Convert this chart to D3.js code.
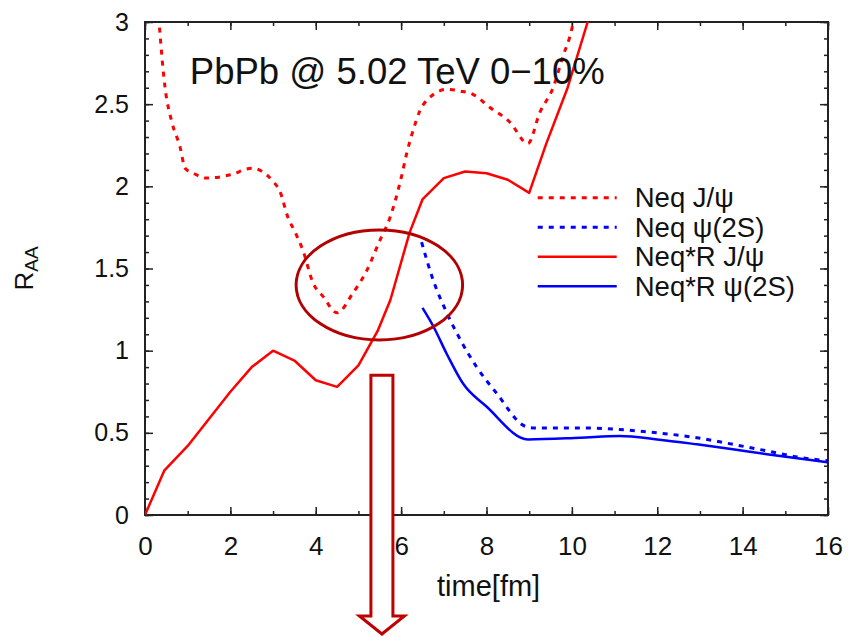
<!DOCTYPE html>
<html>
<head>
<meta charset="utf-8">
<script src="https://cdn.jsdelivr.net/npm/d3@7"></script>
<style>
  body { margin: 0; background: #fff; }
  svg { display: block; font-family: "Liberation Sans", Arial, sans-serif; }
</style>
</head>
<body>
<svg id="chart" width="850" height="637"></svg>
<script>
// valores (tempo em fm, R_AA)
const neqJpsiT = [0.25, 0.33, 0.47, 0.62, 0.82, 0.94, 1.13, 1.44, 2.0, 2.5, 2.85, 3.0, 3.16, 3.35, 3.5, 3.7, 3.94, 4.17, 4.5, 4.87, 5.2, 5.5, 5.74, 6.0, 6.13, 6.28, 6.44, 6.67, 7.07, 7.38, 7.68, 8.08, 8.55, 8.97, 9.25, 9.56, 9.79, 10.0, 10.1];
const neqJpsiR = [3.3, 3.0, 2.6, 2.4, 2.24, 2.11, 2.08, 2.05, 2.07, 2.11, 2.07, 2.03, 1.97, 1.81, 1.73, 1.61, 1.41, 1.33, 1.23, 1.35, 1.49, 1.67, 1.81, 2.05, 2.2, 2.34, 2.46, 2.54, 2.59, 2.58, 2.56, 2.48, 2.39, 2.26, 2.45, 2.6, 2.79, 2.96, 3.1];

const neqPsi2sT = [6.48, 6.75, 7.07, 7.38, 7.77, 8.24, 8.9, 9.09, 10.19, 11.12, 12.0, 12.93, 13.77, 14.57, 15.35, 16.0];
const neqPsi2sR = [1.66, 1.43, 1.23, 1.07, 0.9, 0.74, 0.54, 0.53, 0.53, 0.52, 0.5, 0.47, 0.43, 0.39, 0.35, 0.33];

const neqRJpsiT = [0, 0.45, 1.0, 2.0, 2.5, 3.0, 3.5, 4.0, 4.5, 5.0, 5.45, 5.75, 6.2, 6.5, 7.0, 7.5, 8.0, 8.5, 9.0, 9.4, 9.9, 10.37, 10.5];
const neqRJpsiR = [0, 0.27, 0.42, 0.75, 0.9, 1.0, 0.94, 0.82, 0.78, 0.91, 1.12, 1.31, 1.72, 1.92, 2.05, 2.09, 2.08, 2.04, 1.96, 2.26, 2.6, 3.0, 3.1];

const neqRPsi2sT = [6.5, 6.75, 7.07, 7.45, 8.0, 8.97, 10.19, 11.12, 12.0, 12.93, 13.77, 14.57, 16.0];
const neqRPsi2sR = [1.26, 1.15, 0.98, 0.8, 0.66, 0.46, 0.47, 0.48, 0.46, 0.43, 0.4, 0.37, 0.32];

// ticks dos eixos
const xTicks = [0, 2, 4, 6, 8, 10, 12, 14, 16];
const yTicks = [0, 0.5, 1, 1.5, 2, 2.5, 3];
const yTickLabels = ["0", "0.5", "1", "1.5", "2", "2.5", "3"];

const seriesNames = ["Neq J/\u03C8", "Neq \u03C8(2S)", "Neq*R J/\u03C8", "Neq*R \u03C8(2S)"];
const seriesColors = ["#ff0000", "#0000ff", "#ff0000", "#0000ff"];
const seriesDashed = [true, true, false, false];
// a curva Neq*R J/psi é quase uma poligonal no original
const seriesCurves = [d3.curveMonotoneX, d3.curveMonotoneX, d3.curveLinear, d3.curveMonotoneX];

const titleText = "PbPb @ 5.02 TeV 0\u221210%";

// monta as séries a partir das listas
const series = [
  d3.zip(neqJpsiT, neqJpsiR),
  d3.zip(neqPsi2sT, neqPsi2sR),
  d3.zip(neqRJpsiT, neqRJpsiR),
  d3.zip(neqRPsi2sT, neqRPsi2sR),
];

// dimensões
const width = 850;
const height = 637;
const margin = { top: 22, right: 22, bottom: 122, left: 145 };
const w = width - margin.left - margin.right;
const h = height - margin.top - margin.bottom;

const svg = d3.select("#chart");
const g = svg.append("g").attr("transform", `translate(${margin.left},${margin.top})`);

const x = d3.scaleLinear().domain([0, 16]).range([0, w]);
const y = d3.scaleLinear().domain([0, 3]).range([h, 0]);

// clip para as curvas não sairem da área do gráfico
g.append("clipPath")
  .attr("id", "clip")
  .append("rect")
  .attr("width", w)
  .attr("height", h);

// eixos: ticks para dentro, em todos os lados
function styleAxis(sel, size) {
  sel.select(".domain").remove();
  sel.selectAll(".tick line").attr("stroke", "#222").attr("stroke-width", 1.5);
  sel.selectAll(".tick text").attr("fill", "#111").attr("font-size", size || 24);
}

const xMinor = d3.range(0, 17, 1);
const yMinor = d3.range(0, 30.5, 1).map((d) => d / 10);

g.append("g")
  .attr("transform", `translate(0,${h})`)
  .call(d3.axisBottom(x).tickValues(xMinor).tickSize(-4).tickFormat(""))
  .call(styleAxis);
g.append("g")
  .attr("transform", `translate(0,${h})`)
  .call(d3.axisBottom(x).tickValues(xTicks).tickSize(-8).tickPadding(22).tickFormat(d3.format("d")))
  .call(styleAxis, 26);
g.append("g")
  .call(d3.axisTop(x).tickValues(xMinor).tickSize(-4).tickFormat(""))
  .call(styleAxis);
g.append("g")
  .call(d3.axisTop(x).tickValues(xTicks).tickSize(-8).tickFormat(""))
  .call(styleAxis);

g.append("g")
  .call(d3.axisLeft(y).tickValues(yMinor).tickSize(-4).tickFormat(""))
  .call(styleAxis);
g.append("g")
  .call(d3.axisLeft(y).tickValues(yTicks).tickSize(-8).tickPadding(16).tickFormat((d, i) => yTickLabels[i]))
  .call(styleAxis, 25);
g.append("g")
  .attr("transform", `translate(${w},0)`)
  .call(d3.axisRight(y).tickValues(yMinor).tickSize(-4).tickFormat(""))
  .call(styleAxis);
g.append("g")
  .attr("transform", `translate(${w},0)`)
  .call(d3.axisRight(y).tickValues(yTicks).tickSize(-8).tickFormat(""))
  .call(styleAxis);

// moldura
g.append("rect")
  .attr("width", w)
  .attr("height", h)
  .attr("fill", "none")
  .attr("stroke", "#222")
  .attr("stroke-width", 2);

// curvas
g.append("g")
  .attr("clip-path", "url(#clip)")
  .selectAll("path")
  .data(series)
  .enter()
  .append("path")
  .attr("d", (d, i) =>
    d3.line()
      .x((p) => x(p[0]))
      .y((p) => y(p[1]))
      .curve(seriesCurves[i])(d)
  )
  .attr("fill", "none")
  .attr("stroke", (d, i) => seriesColors[i])
  .attr("stroke-width", (d, i) => (seriesDashed[i] ? 3 : 2.5))
  .attr("stroke-linejoin", "round")
  .attr("stroke-dasharray", (d, i) => (seriesDashed[i] ? "5,6" : null));

// legenda
const legend = g.append("g").attr("transform", `translate(${x(9.2)},${y(1.93)})`);
const legendRow = legend
  .selectAll("g")
  .data(seriesNames)
  .enter()
  .append("g")
  .attr("transform", (d, i) => `translate(0,${i * 29.5})`);
legendRow
  .append("line")
  .attr("x1", 0)
  .attr("x2", 79)
  .attr("stroke", (d, i) => seriesColors[i])
  .attr("stroke-width", (d, i) => (seriesDashed[i] ? 3 : 2.5))
  .attr("stroke-dasharray", (d, i) => (seriesDashed[i] ? "5,6" : null));
legendRow
  .append("text")
  .attr("x", 97)
  .attr("dy", "0.35em")
  .attr("font-size", 27.5)
  .attr("fill", "#111")
  .text((d) => d);

// título
g.append("text")
  .attr("x", x(1.05))
  .attr("y", y(2.62))
  .attr("font-size", 36.5)
  .attr("fill", "#111")
  .text(titleText);

// rótulos dos eixos
svg.append("text")
  .attr("x", margin.left + x(8.05))
  .attr("y", 596)
  .attr("text-anchor", "middle")
  .attr("font-size", 29)
  .attr("fill", "#111")
  .text("time[fm]");

const yLabel = svg.append("text")
  .attr("transform", `translate(33,${margin.top + y(1.5)}) rotate(-90)`)
  .attr("text-anchor", "middle")
  .attr("font-size", 26)
  .attr("fill", "#111");
yLabel.append("tspan").text("R");
yLabel.append("tspan").attr("font-size", 19).attr("dy", 5).text("AA");

// anotações: elipse e seta
const annoColor = "#b30000";
g.append("ellipse")
  .attr("cx", x(5.49))
  .attr("cy", y(1.4))
  .attr("rx", x(1.95) - x(0))
  .attr("ry", y(0) - y(0.335))
  .attr("fill", "none")
  .attr("stroke", annoColor)
  .attr("stroke-width", 3);

const ax = x(5.55);
const ayTop = y(0.85);
const shaftHalf = 11;
const headHalf = 22.5;
const shaftBottom = 616 - margin.top;
const tip = 634 - margin.top;
g.append("path")
  .attr("d", `M${ax - shaftHalf},${ayTop} L${ax + shaftHalf},${ayTop} L${ax + shaftHalf},${shaftBottom} L${ax + headHalf},${shaftBottom} L${ax},${tip} L${ax - headHalf},${shaftBottom} L${ax - shaftHalf},${shaftBottom} Z`)
  .attr("fill", "#fff")
  .attr("stroke", "#c00000")
  .attr("stroke-width", 3)
  .attr("stroke-linejoin", "miter");
</script>
</body>
</html>
